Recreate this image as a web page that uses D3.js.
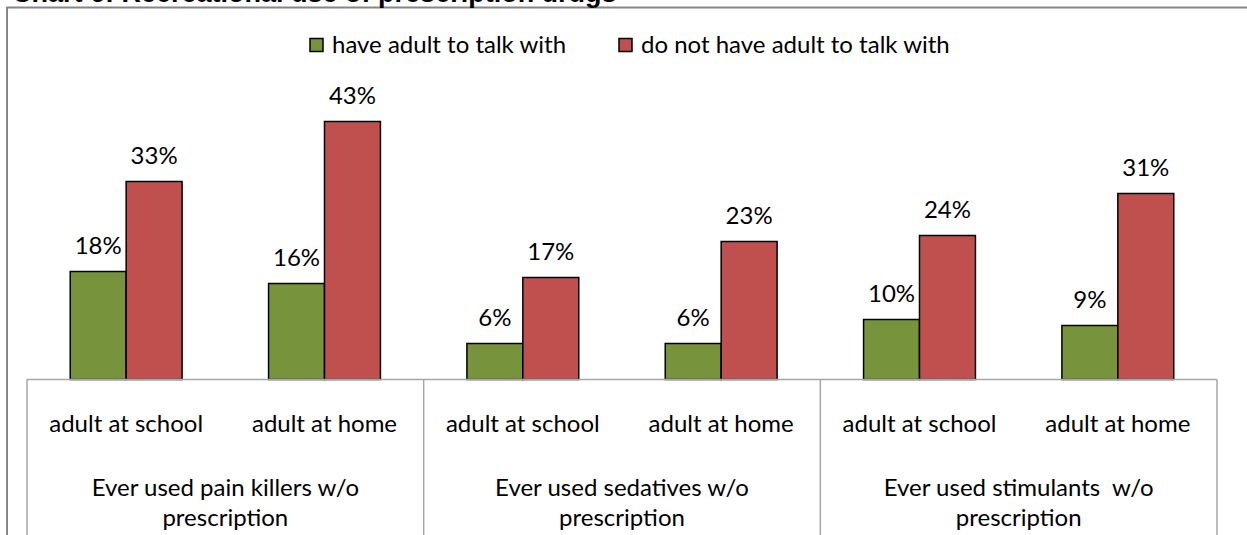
<!DOCTYPE html>
<html>
<head>
<meta charset="utf-8">
<script src="https://cdn.jsdelivr.net/npm/d3@7"></script>
<style>
  html, body { margin: 0; padding: 0; background: #fff; }
  svg { display: block; }
  .lbl { font-family: Lato, "Noto Sans", sans-serif; fill: #000; }
</style>
</head>
<body>
<svg id="chart" width="1247" height="535"></svg>
<script>
// Chart 6 data: share of students who ever used prescription drugs without a prescription
const groups = ["Ever used pain killers w/o|prescription", "Ever used sedatives w/o|prescription", "Ever used stimulants  w/o|prescription"];
const subCategories = ["adult at school", "adult at home"];
const seriesNames = ["have adult to talk with", "do not have adult to talk with"];
const seriesColors = ["#77933C", "#C0504D"];
const haveAdult =   [0.18, 0.16, 0.06, 0.06, 0.10, 0.09];
const noAdult =     [0.33, 0.43, 0.17, 0.23, 0.24, 0.31];
const titleText = "Chart 6: Recreational use of prescription drugs";

const svg = d3.select("#chart");
const fontSize = 24;

// category keys: one per (group, sub-category)
const cats = [];
groups.forEach((g, gi) => subCategories.forEach((s, si) => cats.push({ key: gi + "-" + si, group: gi, label: s })));

const left = 27, right = 1217, baseY = 379.5, topY = 79.5;
const x0 = d3.scaleBand().domain(cats.map(c => c.key)).range([left, right]).padding(0);
const bw = x0.bandwidth();
const x1 = d3.scaleBand().domain(seriesNames).range([bw * 0.218, bw * 0.782]).padding(0);
const y = d3.scaleLinear().domain([0, 0.5]).range([baseY, topY]);
const xg = d3.scaleBand().domain(groups).range([left, right]).padding(0);

// outer chart frame (top and left edges visible)
svg.append("line").attr("x1", 6.5).attr("x2", 1247).attr("y1", 7.5).attr("y2", 7.5)
  .attr("stroke", "#868686").attr("stroke-width", 2);
svg.append("line").attr("x1", 7).attr("x2", 7).attr("y1", 7).attr("y2", 535)
  .attr("stroke", "#868686").attr("stroke-width", 2);

// title
svg.append("text").attr("x", 12).attr("y", 2)
  .style("font-family", "'Liberation Sans', Arial, sans-serif")
  .style("font-weight", "bold").style("font-size", "27px")
  .text(titleText);

// bars
const data = cats.map((c, i) => ({ cat: c, values: [haveAdult[i], noAdult[i]] }));
const catG = svg.append("g").selectAll("g").data(data).join("g")
  .attr("transform", d => `translate(${x0(d.cat.key)},0)`);

catG.selectAll("rect").data(d => d.values.map((v, si) => ({ v, s: seriesNames[si], si })))
  .join("rect")
  .attr("x", d => x1(d.s))
  .attr("width", x1.bandwidth())
  .attr("y", d => y(d.v))
  .attr("height", d => baseY - y(d.v))
  .attr("fill", d => seriesColors[d.si])
  .attr("stroke", "#000").attr("stroke-width", 1.5);

catG.selectAll("text.val").data(d => d.values.map((v, si) => ({ v, s: seriesNames[si] })))
  .join("text").attr("class", "lbl val")
  .attr("x", d => x1(d.s) + x1.bandwidth() / 2)
  .attr("y", d => y(d.v) - 18)
  .attr("text-anchor", "middle")
  .style("font-size", fontSize + "px")
  .text(d => d3.format(".0%")(d.v));

// multi-level category axis
const axis = svg.append("g").attr("stroke", "#A6A6A6").attr("stroke-width", 1.5);
axis.append("line").attr("x1", left).attr("x2", right).attr("y1", baseY).attr("y2", baseY);
const seps = groups.map(g => xg(g)).concat([right]);
axis.selectAll("line.sep").data(seps).join("line").attr("class", "sep")
  .attr("x1", d => d).attr("x2", d => d).attr("y1", baseY).attr("y2", 535);

svg.append("g").selectAll("text").data(cats).join("text").attr("class", "lbl")
  .attr("x", d => x0(d.key) + bw / 2).attr("y", 432)
  .attr("text-anchor", "middle").style("font-size", fontSize + "px")
  .text(d => d.label);

const gl = svg.append("g").selectAll("text").data(groups).join("text").attr("class", "lbl")
  .attr("text-anchor", "middle").style("font-size", fontSize + "px")
  .attr("y", 496);
gl.selectAll("tspan").data(d => d.split("|").map(t => ({ t, g: d })))
  .join("tspan")
  .attr("x", d => xg(d.g) + xg.bandwidth() / 2)
  .attr("dy", (d, i) => i === 0 ? 0 : 30)
  .style("white-space", "pre")
  .text(d => d.t);

// legend
const legendX = [310, 619];
const lg = svg.append("g").selectAll("g").data(seriesNames).join("g")
  .attr("transform", (d, i) => `translate(${legendX[i]},0)`);
lg.append("rect").attr("x", 0).attr("y", 38.5).attr("width", 13).attr("height", 13)
  .attr("fill", (d, i) => seriesColors[i]).attr("stroke", "#000").attr("stroke-width", 1.5);
lg.append("text").attr("class", "lbl").attr("x", 22).attr("y", 53)
  .style("font-size", fontSize + "px").text(d => d);
</script>
</body>
</html>
